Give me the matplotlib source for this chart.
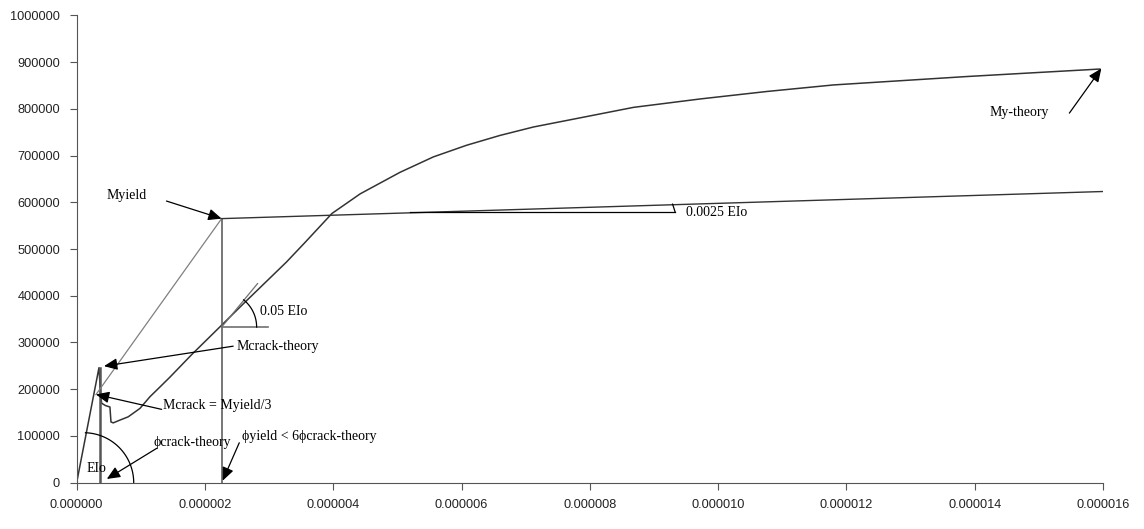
import numpy as np
import matplotlib.pyplot as plt

# Moment - curvature response
phi = np.array([0, 0.348, 0.374, 0.39, 0.45, 0.519, 0.535, 0.57, 0.675, 0.804,
                0.987, 1.143, 1.30, 1.455, 1.8, 2.26, 2.60, 3.27, 3.56, 3.98,
                4.42, 5.04, 5.56, 6.08, 6.60, 7.12, 7.90, 8.68, 9.72, 10.76,
                11.80, 12.84, 13.88, 14.91, 15.95]) * 1e-6
moment = np.array([0, 246, 187, 170, 165, 162, 130, 128, 134, 141,
                   159, 184, 205, 226, 275, 337, 383, 472, 514, 576,
                   618, 664, 697, 722, 743, 761, 782, 803, 821, 837,
                   851, 860, 869, 877, 885]) * 1e3

# Key values
phi_crack = 3.6e-7
m_crack_theory = 246000
phi_yield = 2.26e-6
m_yield = 565000
m_crack = m_yield / 3
phi_crack_secant = 3.0e-7
phi_max = 1.6e-5
m_post = 623000          # post-yield line at 0.0025 EIo
m_tangent = [333000, 426000]
phi_tangent = [phi_yield, 2.82e-6]
phi_tan_ref = 2.98e-6
m_ref = 579000           # horizontal reference for 0.0025 EIo
phi_ref = [5.2e-6, 9.33e-6]
m_ref_tick = 596000
phi_ref_tick = 9.29e-6
phi_eio_center = 1.1e-7

x_ticks = np.arange(0, 0.0000161, 0.000002)
y_ticks = np.arange(0, 1000001, 100000)

fig = plt.figure(figsize=(11.44, 5.29), dpi=100)
ax = fig.add_axes([0.0670, 0.0875, 0.8972, 0.8836])
ax.set_xlim(0, phi_max)
ax.set_ylim(0, 1000000)

# data units per pixel (for drawing circular arcs)
ax_w = 0.8972 * 1144
ax_h = 0.8836 * 529
sx = phi_max / ax_w
sy = 1000000 / ax_h

dark = '#333333'
grey = '#707070'

ax.plot(phi, moment, color=dark, lw=1.1)
ax.plot([phi_crack, phi_crack], [0, m_crack_theory], color='#555555', lw=1.8)
ax.plot([phi_yield, phi_yield], [0, m_yield], color='#606060', lw=1.2)
ax.plot([phi_crack_secant, phi_yield], [m_crack, m_yield], color='#808080', lw=0.9)
ax.plot([phi_yield, phi_max], [m_yield, m_post], color=dark, lw=1.0)

# 0.05 EIo tangent
ax.plot(phi_tangent, m_tangent, color=grey, lw=0.9)
ax.plot([phi_yield, phi_tan_ref], [m_tangent[0], m_tangent[0]], color=grey, lw=1.2)
t = np.radians(np.linspace(0, 51, 40))
ax.plot(phi_yield + 35 * sx * np.cos(t), m_tangent[0] + 35 * sy * np.sin(t),
        color='black', lw=0.9)

# 0.0025 EIo reference
ax.plot(phi_ref, [m_ref, m_ref], color='black', lw=0.9)
ax.plot([phi_ref_tick, phi_ref[1]], [m_ref_tick, m_ref], color='black', lw=0.9)

# EIo arc
t = np.radians(np.linspace(0, 88, 60))
ax.plot(phi_eio_center + 50 * sx * np.cos(t), 50 * sy * np.sin(t),
        color='black', lw=0.9)

serif = dict(family=['Liberation Serif', 'DejaVu Serif'], fontsize=10, color='black')
arrow = dict(arrowstyle='-|>,head_length=0.8,head_width=0.35', color='black',
             lw=0.9, shrinkA=0, shrinkB=0, mutation_scale=10)

def label(text, xy_text, xy_tip=None, tail=None):
    ax.text(xy_text[0], xy_text[1], text, va='center', ha='left', **serif)
    if xy_tip is not None:
        ax.annotate('', xy=xy_tip, xytext=tail, arrowprops=arrow)

label('Myield', (4.7e-7, 614800), (phi_yield, m_yield), (1.40e-6, 602600))
label('Mcrack-theory', (2.49e-6, 290600), (4.26e-7, 249400), (2.44e-6, 292100))
label('Mcrack = Myield/3', (1.35e-6, 166000), (3.0e-7, 188900), (1.325e-6, 156900))
label('\u03d5crack-theory', (1.205e-6, 85500), (4.7e-7, 8000), (1.247e-6, 73500))
label('\u03d5yield < 6\u03d5crack-theory', (2.57e-6, 99800), (2.276e-6, 4300), (2.535e-6, 85500))
label('EIo', (1.56e-7, 31400))
label('0.05 EIo', (2.86e-6, 365400))
label('0.0025 EIo', (9.5e-6, 577800))
label('My-theory', (1.4227e-5, 792800), (1.5973e-5, 886200), (1.5475e-5, 790700))

# Axes styling
for side in ['top', 'right']:
    ax.spines[side].set_visible(False)
for side in ['left', 'bottom']:
    ax.spines[side].set_color('#555555')
ax.set_xticks(x_ticks)
ax.set_xticklabels([f'{v:.6f}' for v in x_ticks])
ax.set_yticks(y_ticks)
ax.set_yticklabels([f'{v:.0f}' for v in y_ticks])
ax.tick_params(direction='out', length=5, color='#555555', labelcolor='#222222',
               labelsize=9.2, pad=7)
for lab in ax.get_xticklabels() + ax.get_yticklabels():
    lab.set_family('Liberation Sans')

fig.savefig('out.png', dpi=100)
